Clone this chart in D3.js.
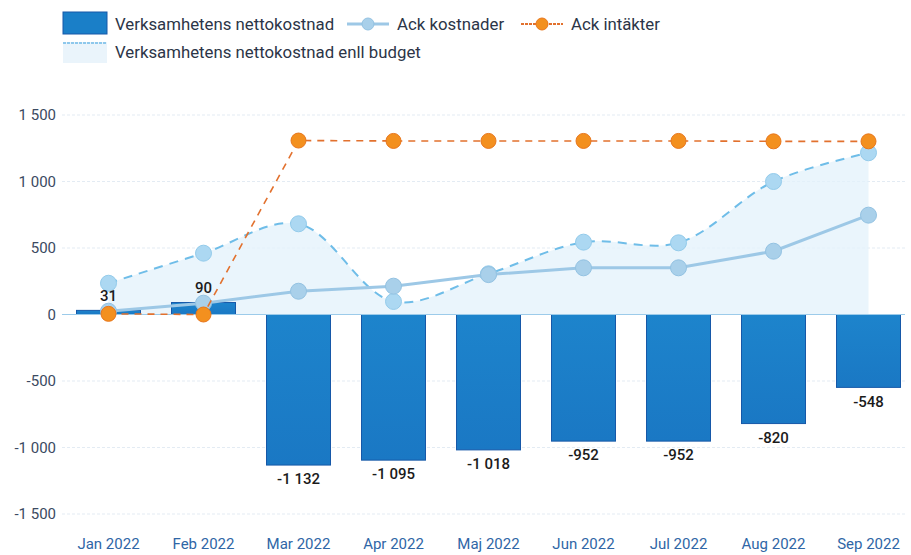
<!DOCTYPE html>
<html>
<head>
<meta charset="utf-8">
<script src="https://cdn.jsdelivr.net/npm/d3@7"></script>
<style>
  body { margin: 0; background: #fff; }
  svg { display: block; font-family: Roboto, "Noto Sans", sans-serif; }
</style>
</head>
<body>
<svg id="chart" width="911" height="555"></svg>
<script>
// data
var months = ["Jan 2022", "Feb 2022", "Mar 2022", "Apr 2022", "Maj 2022", "Jun 2022", "Jul 2022", "Aug 2022", "Sep 2022"];
var nettokostnad = [31, 90, -1132, -1095, -1018, -952, -952, -820, -548];
var ackKostnader = [25, 85, 175, 213, 300, 351, 351, 476, 747];
var ackIntakter = [5, 0, 1308, 1305, 1305, 1305, 1305, 1302, 1302];
var budget = [235, 461, 682, 98, 306, 544, 539, 1000, 1216];
var yTicks = [1500, 1000, 500, 0, -500, -1000, -1500];

var svg = d3.select('#chart');
var fmt = d3.formatLocale({decimal: ",", thousands: "\u00a0", grouping: [3], currency: ["", ""], minus: "-"}).format(",d");

var x = d3.scaleBand().domain(months).range([61, 916]).padding(0);
var y = d3.scaleLinear().domain([-1500, 1500]).range([514, 115]);
var barW = 64;
var cx = function(i) { return x(months[i]) + x.bandwidth() / 2; };

// grid
svg.append('g').selectAll('line')
    .data(yTicks.filter(function(d) { return d !== 0; }))
    .enter().append('line')
    .attr('x1', 62).attr('x2', 905)
    .attr('y1', function(d) { return y(d); })
    .attr('y2', function(d) { return y(d); })
    .attr('stroke', '#e3ebf3')
    .attr('stroke-dasharray', '3,2');

// y labels
svg.append('g').selectAll('text')
    .data(yTicks)
    .enter().append('text')
    .attr('x', 56)
    .attr('y', function(d) { return y(d); })
    .attr('dy', '0.35em')
    .attr('text-anchor', 'end')
    .attr('font-size', 15)
    .attr('fill', '#3b4a62')
    .text(function(d) { return fmt(d); });

// x labels
svg.append('g').selectAll('text')
    .data(months)
    .enter().append('text')
    .attr('x', function(d, i) { return cx(i); })
    .attr('y', 549)
    .attr('text-anchor', 'middle')
    .attr('font-size', 15)
    .attr('fill', '#2f66a6')
    .text(function(d) { return d; });

// budget area
var curve = d3.curveCatmullRom.alpha(0.5);
var area = d3.area()
    .x(function(d, i) { return cx(i); })
    .y0(y(0))
    .y1(function(d) { return y(d); })
    .curve(curve);
svg.append('path')
    .datum(budget)
    .attr('d', area)
    .attr('fill', '#e3f1fb')
    .attr('opacity', 0.75);

// bars
var grad = svg.append('defs').append('linearGradient')
    .attr('id', 'barGrad').attr('x1', 0).attr('x2', 0).attr('y1', 0).attr('y2', 1);
grad.append('stop').attr('offset', '0%').attr('stop-color', '#1d84cc');
grad.append('stop').attr('offset', '100%').attr('stop-color', '#1a78c4');

svg.append('g').selectAll('rect')
    .data(nettokostnad)
    .enter().append('rect')
    .attr('x', function(d, i) { return cx(i) - barW / 2; })
    .attr('y', function(d) { return y(Math.max(0, d)); })
    .attr('width', barW)
    .attr('height', function(d) { return Math.abs(y(d) - y(0)); })
    .attr('fill', 'url(#barGrad)')
    .attr('stroke', '#1658a8')
    .attr('stroke-width', 1);

// zero line
svg.append('line')
    .attr('x1', 62).attr('x2', 905)
    .attr('y1', y(0)).attr('y2', y(0))
    .attr('stroke', '#9ccbea')
    .attr('stroke-width', 1.2);

// budget dashed line
var budgetLine = d3.line()
    .x(function(d, i) { return cx(i); })
    .y(function(d) { return y(d); })
    .curve(curve);
svg.append('path')
    .datum(budget)
    .attr('d', budgetLine)
    .attr('fill', 'none')
    .attr('stroke', '#6fbde8')
    .attr('stroke-width', 2)
    .attr('stroke-dasharray', '9,7');
svg.append('g').selectAll('circle')
    .data(budget)
    .enter().append('circle')
    .attr('cx', function(d, i) { return cx(i); })
    .attr('cy', function(d) { return y(d); })
    .attr('r', 8)
    .attr('fill', '#acd8f2')
    .attr('stroke', '#93cbeb');

// ack kostnader
var straight = d3.line()
    .x(function(d, i) { return cx(i); })
    .y(function(d) { return y(d); });
svg.append('path')
    .datum(ackKostnader)
    .attr('d', straight)
    .attr('fill', 'none')
    .attr('stroke', '#9dc8e6')
    .attr('stroke-width', 3);
svg.append('g').selectAll('circle')
    .data(ackKostnader)
    .enter().append('circle')
    .attr('cx', function(d, i) { return cx(i); })
    .attr('cy', function(d) { return y(d); })
    .attr('r', 8)
    .attr('fill', '#a9d0ea')
    .attr('stroke', '#93c2e2');

// ack intakter
svg.append('path')
    .datum(ackIntakter)
    .attr('d', straight)
    .attr('fill', 'none')
    .attr('stroke', '#e2712e')
    .attr('stroke-width', 1.6)
    .attr('stroke-dasharray', '7,6');
svg.append('g').selectAll('circle')
    .data(ackIntakter)
    .enter().append('circle')
    .attr('cx', function(d, i) { return cx(i); })
    .attr('cy', function(d) { return y(d); })
    .attr('r', 7.5)
    .attr('fill', '#f3901f')
    .attr('stroke', '#e8761c');

// bar labels
svg.append('g').selectAll('text')
    .data(nettokostnad)
    .enter().append('text')
    .attr('x', function(d, i) { return cx(i); })
    .attr('y', function(d) { return d >= 0 ? y(d) - 15 : y(d) + 14; })
    .attr('dy', '0.35em')
    .attr('text-anchor', 'middle')
    .attr('font-size', 15)
    .attr('font-weight', 500)
    .attr('fill', '#1b1b1b')
    .text(function(d) { return fmt(d); });

// legend
var lg = svg.append('g').attr('font-size', 16.8).attr('fill', '#2c3547');
lg.append('rect').attr('x', 63).attr('y', 12).attr('width', 44).attr('height', 22)
    .attr('fill', '#1a7fc8').attr('stroke', '#1658a8');
lg.append('text').attr('x', 115).attr('y', 30).text('Verksamhetens nettokostnad');

lg.append('line').attr('x1', 347).attr('x2', 389).attr('y1', 24).attr('y2', 24)
    .attr('stroke', '#9dc8e6').attr('stroke-width', 3);
lg.append('circle').attr('cx', 368).attr('cy', 24).attr('r', 6)
    .attr('fill', '#a9d0ea').attr('stroke', '#93c2e2');
lg.append('text').attr('x', 397).attr('y', 30).text('Ack kostnader');

lg.append('line').attr('x1', 521).attr('x2', 563).attr('y1', 24).attr('y2', 24)
    .attr('stroke', '#e2712e').attr('stroke-width', 2).attr('stroke-dasharray', '3,1');
lg.append('circle').attr('cx', 542).attr('cy', 24).attr('r', 6)
    .attr('fill', '#f3901f').attr('stroke', '#e8761c');
lg.append('text').attr('x', 571).attr('y', 30).text('Ack int\u00e4kter');

lg.append('rect').attr('x', 63).attr('y', 42).attr('width', 44).attr('height', 21)
    .attr('fill', '#eaf4fb');
lg.append('line').attr('x1', 63).attr('x2', 107).attr('y1', 43).attr('y2', 43)
    .attr('stroke', '#8ec8ec').attr('stroke-width', 2).attr('stroke-dasharray', '3,1');
lg.append('text').attr('x', 115).attr('y', 58).text('Verksamhetens nettokostnad enll budget');
</script>
</body>
</html>
